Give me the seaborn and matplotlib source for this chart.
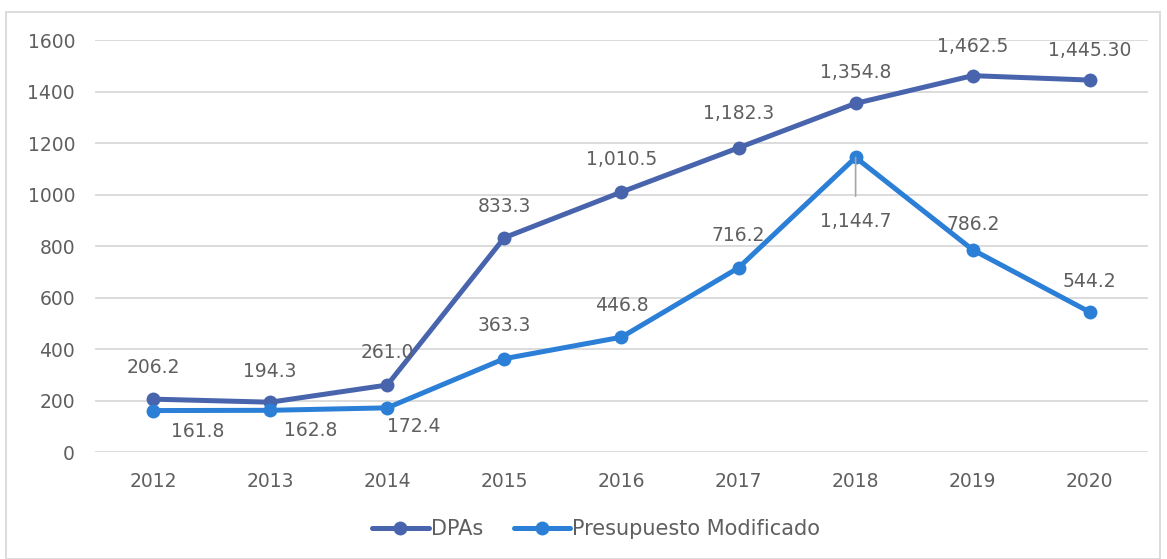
import matplotlib
matplotlib.use("Agg")
import matplotlib.pyplot as plt
import seaborn as sns
import pandas as pd
from matplotlib.patches import Rectangle

# Data
years = ["2012", "2013", "2014", "2015", "2016", "2017", "2018", "2019", "2020"]
dpas = [206.2, 194.3, 261.0, 833.3, 1010.5, 1182.3, 1354.8, 1462.5, 1445.3]
presupuesto = [161.8, 162.8, 172.4, 363.3, 446.8, 716.2, 1144.7, 786.2, 544.2]
dpas_labels = ["206.2", "194.3", "261.0", "833.3", "1,010.5", "1,182.3", "1,354.8", "1,462.5", "1,445.30"]
pres_labels = ["161.8", "162.8", "172.4", "363.3", "446.8", "716.2", "1,144.7", "786.2", "544.2"]
series_names = ["DPAs", "Presupuesto Modificado"]

df = pd.DataFrame({
    "year": years * 2,
    "value": dpas + presupuesto,
    "serie": [series_names[0]] * len(years) + [series_names[1]] * len(years),
})

sns.set_style("white")
plt.rcParams["font.family"] = ["DejaVu Sans"]
text_color = "#5f5f5f"
fs = 13.5
colors = {"DPAs": "#4864AD", "Presupuesto Modificado": "#2B7FD6"}

fig = plt.figure(figsize=(11.67, 5.59), dpi=100)
ax = fig.add_axes([0.081, 0.191, 0.903, 0.737])

sns.lineplot(data=df, x="year", y="value", hue="serie", palette=colors,
             marker="o", markersize=10, markeredgewidth=0, linewidth=3.6,
             sort=False, ax=ax)

ax.set_xlim(-0.5, len(years) - 0.5)
ax.set_ylim(0, 1600)
ax.set_yticks(range(0, 1601, 200))
ax.grid(axis="y", color="#d9d9d9", linewidth=1.3)
ax.set_axisbelow(True)
for s in ax.spines.values():
    s.set_visible(False)
ax.tick_params(axis="both", length=0, labelsize=fs, labelcolor=text_color, pad=14)
ax.tick_params(axis="y", pad=14)
ax.set_xlabel("")
ax.set_ylabel("")

# data labels (offsets in pixels)
dpas_off = [(0, 32), (0, 31), (0, 33), (0, 31), (0, 33), (0, 34), (0, 31), (0, 29), (0, 30)]
pres_off = [(45, -21), (41, -20), (27, -19), (0, 33), (0, 32), (0, 32), (0, -64), (0, 25), (0, 31)]
for i in range(len(years)):
    ax.annotate(dpas_labels[i], (i, dpas[i]), xytext=dpas_off[i], textcoords="offset pixels",
                ha="center", va="center", fontsize=fs, color=text_color)
    if i == 6:
        ax.annotate(pres_labels[i], (i, presupuesto[i]), xytext=pres_off[i],
                    textcoords="offset pixels", ha="center", va="center",
                    fontsize=fs, color=text_color,
                    arrowprops=dict(arrowstyle="-", color="#a6a6a6", lw=1.2,
                                    shrinkA=9, shrinkB=0))
    else:
        ax.annotate(pres_labels[i], (i, presupuesto[i]), xytext=pres_off[i],
                    textcoords="offset pixels", ha="center", va="center",
                    fontsize=fs, color=text_color)

ax.legend_.remove()
handles, labels = ax.get_legend_handles_labels()
leg = fig.legend(handles, labels, loc="center", bbox_to_anchor=(0.511, 0.053), ncol=2,
                 frameon=False, fontsize=15, handlelength=2.7, handletextpad=0.1,
                 columnspacing=1.5)
for t in leg.get_texts():
    t.set_color(text_color)

fig.patches.append(Rectangle((0.005, 0.0), 0.989, 0.978, transform=fig.transFigure,
                             fill=False, edgecolor="#d9d9d9", linewidth=1.3))

fig.savefig("out.png", dpi=100)
